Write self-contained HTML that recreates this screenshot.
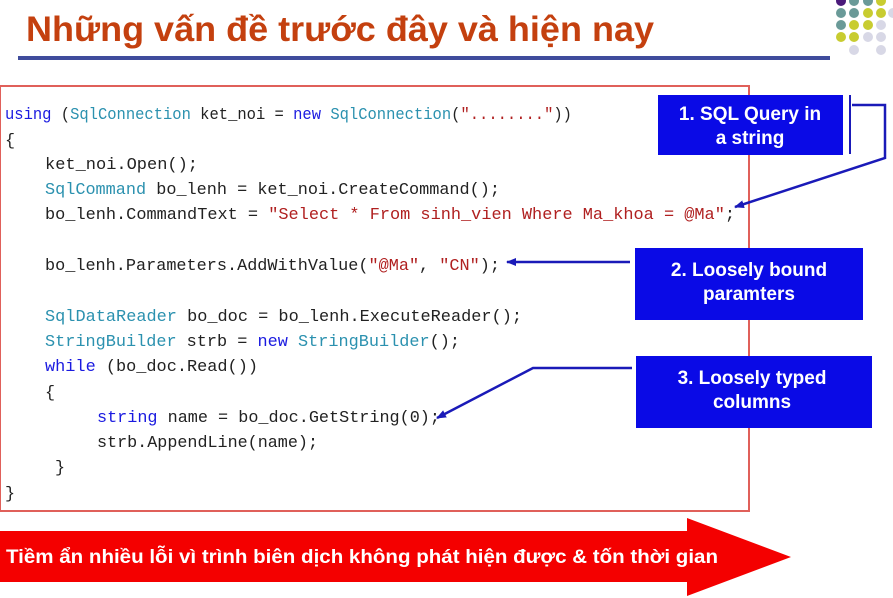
<!DOCTYPE html>
<html><head><meta charset="utf-8"><style>
html,body{margin:0;padding:0;background:#fff;}
svg{display:block}
.c{font-family:"Liberation Mono",monospace;font-size:16.8px;fill:#222;}
.k{fill:#1a1ae0}.t{fill:#2b91af}.s{fill:#b02020}
.b{font-family:"Liberation Sans",sans-serif;font-weight:bold;font-size:19px;fill:#fff;text-anchor:middle}
</style></head><body>
<svg width="893" height="598" viewBox="0 0 893 598" xmlns="http://www.w3.org/2000/svg">
<text x="26" y="41" font-family="Liberation Sans, sans-serif" font-weight="bold" font-size="35" fill="#c4400f" textLength="628" lengthAdjust="spacingAndGlyphs">Những vấn đề trước đây và hiện nay</text>
<rect x="18" y="56" width="812" height="4" fill="#3f4c9c"/>
<g>
<circle cx="841" cy="1" r="5" fill="#4a1a7a"/><circle cx="854" cy="1" r="5" fill="#6a9a98"/><circle cx="868" cy="1" r="5" fill="#6a9a98"/><circle cx="881" cy="1" r="5" fill="#c8cc30"/>
<circle cx="841" cy="13" r="5" fill="#6a9a98"/><circle cx="854" cy="13" r="5" fill="#6a9a98"/><circle cx="868" cy="13" r="5" fill="#c8cc30"/><circle cx="881" cy="13" r="5" fill="#c8cc30"/><circle cx="893" cy="13" r="5" fill="#d8d8e6"/>
<circle cx="841" cy="25" r="5" fill="#6a9a98"/><circle cx="854" cy="25" r="5" fill="#c8cc30"/><circle cx="868" cy="25" r="5" fill="#c8cc30"/><circle cx="881" cy="25" r="5" fill="#d8d8e6"/>
<circle cx="841" cy="37" r="5" fill="#c8cc30"/><circle cx="854" cy="37" r="5" fill="#c8cc30"/><circle cx="868" cy="37" r="5" fill="#d8d8e6"/><circle cx="881" cy="37" r="5" fill="#d8d8e6"/>
<circle cx="854" cy="50" r="5" fill="#d8d8e6"/><circle cx="881" cy="50" r="5" fill="#d8d8e6"/>
</g>
<rect x="0" y="86" width="749" height="425" fill="none" stroke="#e0605a" stroke-width="2"/>
<g class="c">
<text x="5" y="119" textLength="567" lengthAdjust="spacingAndGlyphs"><tspan class="k">using</tspan> (<tspan class="t">SqlConnection</tspan> ket_noi = <tspan class="k">new</tspan> <tspan class="t">SqlConnection</tspan>(<tspan class="s">"........"</tspan>))</text>
<text x="5" y="145">{</text>
<text x="45" y="169" textLength="153" lengthAdjust="spacingAndGlyphs">ket_noi.Open();</text>
<text x="45" y="194" textLength="455" lengthAdjust="spacingAndGlyphs"><tspan class="t">SqlCommand</tspan> bo_lenh = ket_noi.CreateCommand();</text>
<text x="45" y="219" textLength="690" lengthAdjust="spacingAndGlyphs">bo_lenh.CommandText = <tspan class="s">"Select * From sinh_vien Where Ma_khoa = @Ma"</tspan>;</text>
<text x="45" y="270" textLength="455" lengthAdjust="spacingAndGlyphs">bo_lenh.Parameters.AddWithValue(<tspan class="s">"@Ma"</tspan>, <tspan class="s">"CN"</tspan>);</text>
<text x="45" y="321" textLength="477" lengthAdjust="spacingAndGlyphs"><tspan class="t">SqlDataReader</tspan> bo_doc = bo_lenh.ExecuteReader();</text>
<text x="45" y="346" textLength="415" lengthAdjust="spacingAndGlyphs"><tspan class="t">StringBuilder</tspan> strb = <tspan class="k">new</tspan> <tspan class="t">StringBuilder</tspan>();</text>
<text x="45" y="371" textLength="213" lengthAdjust="spacingAndGlyphs"><tspan class="k">while</tspan> (bo_doc.Read())</text>
<text x="45" y="397">{</text>
<text x="97" y="422" textLength="343" lengthAdjust="spacingAndGlyphs"><tspan class="k">string</tspan> name = bo_doc.GetString(0);</text>
<text x="97" y="447" textLength="221" lengthAdjust="spacingAndGlyphs">strb.AppendLine(name);</text>
<text x="55" y="472">}</text>
<text x="5" y="498">}</text>
</g>
<defs><marker id="a" markerWidth="10" markerHeight="8" refX="9" refY="4" orient="auto" markerUnits="userSpaceOnUse"><path d="M0,0 L10,4 L0,8 Z" fill="#1a1ab8"/></marker></defs>
<rect x="658" y="95" width="185" height="60" fill="#0a0ae6"/>
<text class="b" x="750" y="120">1. SQL Query in</text>
<text class="b" x="750" y="144">a string</text>
<line x1="850" y1="95" x2="850" y2="154" stroke="#1a1ab8" stroke-width="2"/>
<polyline points="852,105 885,105 885,158 735,207" fill="none" stroke="#1a1ab8" stroke-width="2.5" marker-end="url(#a)"/>
<rect x="635" y="248" width="228" height="72" fill="#0a0ae6"/>
<text class="b" x="749" y="276">2. Loosely bound</text>
<text class="b" x="749" y="300">paramters</text>
<line x1="630" y1="262" x2="507" y2="262" stroke="#1a1ab8" stroke-width="2.5" marker-end="url(#a)"/>
<rect x="636" y="356" width="236" height="72" fill="#0a0ae6"/>
<text class="b" x="752" y="384">3. Loosely typed</text>
<text class="b" x="752" y="408">columns</text>
<polyline points="632,368 533,368 437,418" fill="none" stroke="#1a1ab8" stroke-width="2.5" marker-end="url(#a)"/>
<polygon points="0,531 687,531 687,518 791,557 687,596 687,582 0,582" fill="#f40000"/>
<text x="6" y="563" font-family="Liberation Sans, sans-serif" font-weight="bold" font-size="19" fill="#fff" textLength="712" lengthAdjust="spacingAndGlyphs">Tiềm ẩn nhiều lỗi vì trình biên dịch không phát hiện được &amp; tốn thời gian</text>
</svg>
</body></html>
